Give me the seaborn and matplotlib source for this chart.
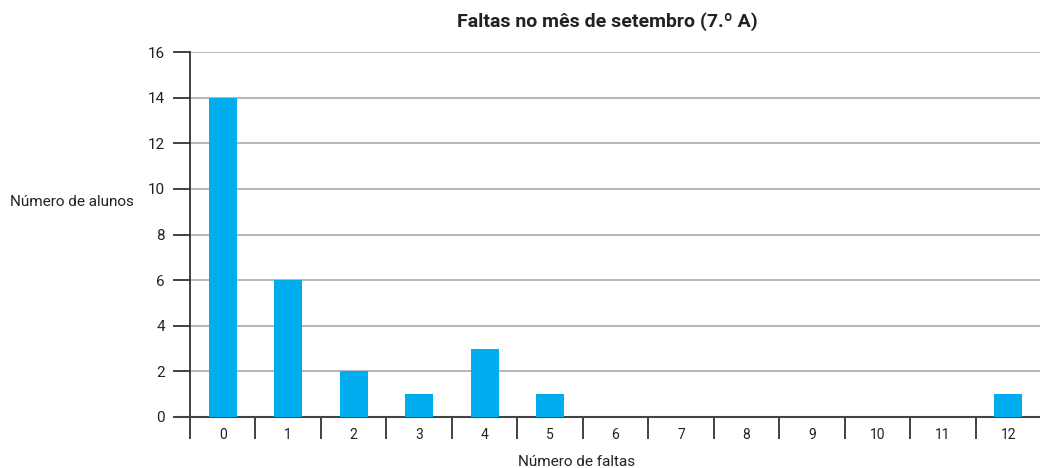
import matplotlib
matplotlib.use("Agg")
import matplotlib.pyplot as plt
import seaborn as sns
import pandas as pd
import numpy as np

faltas = ["0", "1", "2", "3", "4", "5", "6", "7", "8", "9", "10", "11", "12"]
alunos = [14, 6, 2, 1, 3, 1, 0, 0, 0, 0, 0, 0, 1]
yticks = [0, 2, 4, 6, 8, 10, 12, 14, 16]

sns.set_theme(style="white")
plt.rcParams['font.family'] = ['Roboto', 'DejaVu Sans']

df = pd.DataFrame({"faltas": faltas, "alunos": alunos})

fig = plt.figure(figsize=(10.4, 4.68), dpi=100)
ax = fig.add_axes([190/1040, 1-417/468, 851/1040, 365/468])

sns.barplot(data=df, x="faltas", y="alunos", order=faltas, color="#00AEEF",
            width=0.43, saturation=1, linewidth=0, edgecolor="none", ax=ax, zorder=3)

ax.set_xlim(-0.5, len(faltas)-0.5)
ax.set_ylim(0, 16)
ax.set_yticks(yticks)
ax.set_yticklabels([str(v) for v in yticks], fontsize=11, color="#222222")
ax.yaxis.grid(True, color="#aaaaaa", linewidth=1.2, zorder=0)
ax.set_axisbelow(True)

ax.tick_params(axis="y", which="major", direction="out", length=12, width=1.3,
               color="#333333", pad=6, left=True)
ax.tick_params(axis="x", which="major", length=0, pad=8, labelsize=10, labelcolor="#222222")
ax.set_xticks(np.arange(-0.5, len(faltas)), minor=True)
ax.tick_params(axis="x", which="minor", direction="out", length=16, width=1.3,
               color="#333333", bottom=True)

for s in ["top", "right"]:
    ax.spines[s].set_visible(False)
ax.spines["left"].set_color("#333333")
ax.spines["left"].set_linewidth(1.3)
ax.spines["bottom"].set_color("#444444")
ax.spines["bottom"].set_linewidth(1.5)
ax.spines["bottom"].set_bounds(-0.5 - 12/65.5, len(faltas)-0.5)

ax.set_xlabel("Número de faltas", fontsize=11, color="#222222")
ax.xaxis.set_label_coords((577-190)/851, -(462-417)/365)
ax.xaxis.label.set_va("center")
ax.set_ylabel("Número de alunos", fontsize=11, color="#222222", rotation=0,
              ha="left", va="center")
ax.yaxis.set_label_coords(-180/851, 0.59)
fig.text(607/1040, 1-22/468, "Faltas no mês de setembro (7.º A)", ha="center",
         va="center", fontsize=14, fontweight="bold", color="#222222")

fig.savefig("out.png", dpi=100)
